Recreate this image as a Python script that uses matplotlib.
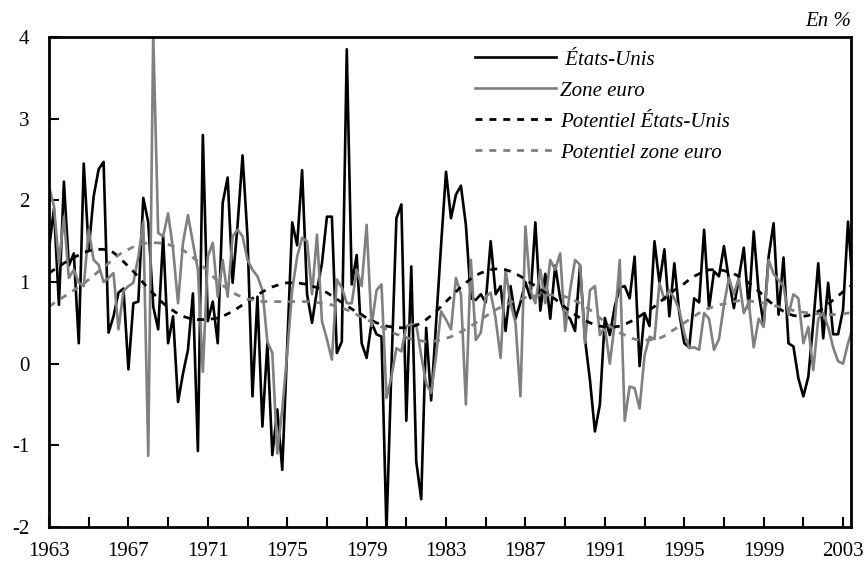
import numpy as np
import matplotlib
matplotlib.use('Agg')
import matplotlib.pyplot as plt

plt.rcParams['font.family'] = ['Liberation Serif', 'DejaVu Serif']
plt.rcParams['axes.unicode_minus'] = False

# croissance trimestrielle, 1963T1 - 2003T3
etats_unis = [
    1.4, 1.9, 0.72, 2.23,      # 1963
    1.2, 1.35, 0.25, 2.45,     # 1964
    1.4, 2.05, 2.38, 2.47,     # 1965
    0.38, 0.58, 0.87, 0.92,    # 1966
    -0.07, 0.74, 0.76, 2.03,   # 1967
    1.73, 0.7, 0.42, 1.56,     # 1968
    0.25, 0.58, -0.47, -0.12,  # 1969
    0.17, 0.86, -1.07, 2.8,    # 1970
    0.52, 0.76, 0.25, 1.97,    # 1971
    2.28, 0.99, 1.7, 2.55,     # 1972
    1.55, -0.4, 0.82, -0.77,   # 1973
    0.25, -1.12, -0.56, -1.3,  # 1974
    0.2, 1.73, 1.45, 2.37,     # 1975
    0.85, 0.5, 0.9, 1.23,      # 1976
    1.8, 1.8, 0.13, 0.27,      # 1977
    3.85, 0.97, 1.33, 0.25,    # 1978
    0.07, 0.5, 0.36, 0.33,     # 1979
    -2.05, -0.05, 1.78, 1.95,  # 1980
    -0.7, 1.19, -1.2, -1.66,   # 1981
    0.44, -0.45, 0.5, 1.45,    # 1982
    2.35, 1.78, 2.07, 2.18,    # 1983
    1.7, 0.8, 0.78, 0.85,      # 1984
    0.75, 1.5, 0.85, 0.95,     # 1985
    0.4, 0.95, 0.55, 0.75,     # 1986
    1.0, 0.8, 1.73, 0.65,      # 1987
    1.1, 0.55, 1.2, 0.8,       # 1988
    0.6, 0.55, 0.4, 1.2,       # 1989
    0.3, -0.2, -0.83, -0.5,    # 1990
    0.56, 0.35, 0.7, 0.93,     # 1991
    0.95, 0.8, 1.31, -0.03,    # 1992
    0.62, 0.46, 1.5, 0.99,     # 1993
    1.4, 0.58, 1.23, 0.62,     # 1994
    0.25, 0.2, 0.8, 0.75,      # 1995
    1.64, 0.68, 1.13, 1.07,    # 1996
    1.44, 1.03, 0.68, 1.05,    # 1997
    1.42, 0.68, 1.62, 0.87,    # 1998
    0.48, 1.31, 1.72, 0.6,     # 1999
    1.3, 0.25, 0.21, -0.18,    # 2000
    -0.4, -0.16, 0.5, 1.23,    # 2001
    0.31, 0.99, 0.36, 0.36,    # 2002
    0.66, 1.74, 0.9,           # 2003
]

zone_euro = [
    2.17, 1.93, 1.23, 1.8,
    1.05, 1.15, 0.99, 0.95,
    1.64, 1.27, 1.21, 1.0,
    1.05, 1.11, 0.42, 0.89,
    0.95, 0.99, 1.31, 1.74,
    -1.13, 4.05, 1.6, 1.56,
    1.84, 1.4, 0.74, 1.48,
    1.82, 1.48, 1.15, -0.1,
    1.31, 1.48, 0.82, 1.27,
    0.82, 1.56, 1.64, 1.56,
    1.27, 1.15, 1.07, 0.9,
    0.27, 0.13, -1.1, -0.56,
    0.13, 0.9, 1.31, 1.54,
    1.5, 0.85, 1.58, 0.52,
    0.3, 0.05, 1.03, 0.93,
    0.74, 0.74, 1.15, 0.95,
    1.7, 0.46, 0.9, 0.97,
    -0.42, -0.16, 0.19, 0.15,
    0.46, 0.48, 0.48, 0.1,
    -0.24, -0.36, 0.1, 0.64,
    0.54, 0.42, 1.05, 0.85,
    -0.5, 1.27, 0.29, 0.38,
    0.82, 0.87, 0.55, 0.07,
    1.15, 0.74, 0.5, -0.4,
    1.68, 0.9, 0.74, 1.15,
    0.74, 1.27, 1.15, 1.35,
    0.4, 0.9, 1.27, 1.21,
    0.25, 0.9, 0.95, 0.35,
    0.45, 0.0, 0.5, 1.27,
    -0.7, -0.28, -0.3, -0.55,
    0.1, 0.33, 0.3, 0.99,
    0.78, 0.9, 0.8, 0.66,
    0.37, 0.19, 0.2, 0.17,
    0.62, 0.55, 0.17, 0.3,
    0.72, 1.05, 0.85, 1.05,
    0.62, 0.75, 0.2, 0.55,
    0.45, 1.27, 1.1, 1.02,
    0.95, 0.6, 0.85, 0.8,
    0.25, 0.45, -0.08, 0.55,
    0.62, 0.45, 0.2, 0.03,
    0.0, 0.25, 0.45,
]

pot_etats_unis = [
    1.11, 1.15, 1.19, 1.23,
    1.27, 1.30, 1.33, 1.36,
    1.38, 1.40, 1.40, 1.40,
    1.39, 1.36, 1.31, 1.25,
    1.19, 1.13, 1.06, 0.99,
    0.92, 0.86, 0.80, 0.74,
    0.69, 0.65, 0.61, 0.58,
    0.56, 0.55, 0.54, 0.54,
    0.54, 0.55, 0.56, 0.58,
    0.61, 0.64, 0.68, 0.72,
    0.76, 0.80, 0.84, 0.88,
    0.91, 0.94, 0.96, 0.98,
    0.99, 0.99, 0.99, 0.98,
    0.97, 0.95, 0.93, 0.90,
    0.87, 0.83, 0.79, 0.75,
    0.71, 0.67, 0.63, 0.60,
    0.56, 0.53, 0.50, 0.48,
    0.46, 0.45, 0.44, 0.44,
    0.44, 0.45, 0.47, 0.50,
    0.54, 0.59, 0.64, 0.70,
    0.76, 0.82, 0.88, 0.94,
    0.99, 1.04, 1.08, 1.11,
    1.13, 1.15, 1.16, 1.16,
    1.15, 1.13, 1.10, 1.07,
    1.03, 0.99, 0.95, 0.91,
    0.87, 0.83, 0.79, 0.74,
    0.69, 0.64, 0.60, 0.56,
    0.53, 0.50, 0.48, 0.46,
    0.45, 0.45, 0.45, 0.46,
    0.48, 0.51, 0.54, 0.58,
    0.62, 0.66, 0.70, 0.75,
    0.80, 0.85, 0.90, 0.94,
    0.98, 1.03, 1.07, 1.10,
    1.13, 1.15, 1.15, 1.15,
    1.14, 1.12, 1.10, 1.07,
    1.03, 0.99, 0.94, 0.89,
    0.83, 0.77, 0.72, 0.68,
    0.64, 0.61, 0.59, 0.58,
    0.58, 0.59, 0.61, 0.64,
    0.68, 0.73, 0.78, 0.83,
    0.88, 0.93, 0.97,
]

pot_zone_euro = [
    0.70, 0.74, 0.78, 0.82,
    0.86, 0.90, 0.94, 0.98,
    1.03, 1.08, 1.13, 1.18,
    1.23, 1.28, 1.33, 1.37,
    1.40, 1.43, 1.46, 1.47,
    1.48, 1.48, 1.48, 1.47,
    1.46, 1.44, 1.42, 1.39,
    1.35, 1.30, 1.25, 1.19,
    1.13, 1.07, 1.01, 0.96,
    0.91, 0.87, 0.84, 0.81,
    0.79, 0.78, 0.77, 0.76,
    0.76, 0.76, 0.76, 0.76,
    0.76, 0.76, 0.76, 0.76,
    0.76, 0.75, 0.75, 0.74,
    0.73, 0.72, 0.70, 0.68,
    0.66, 0.63, 0.60, 0.57,
    0.54, 0.51, 0.48, 0.45,
    0.42, 0.39, 0.36, 0.34,
    0.32, 0.30, 0.29, 0.28,
    0.27, 0.27, 0.28, 0.29,
    0.31, 0.33, 0.36, 0.39,
    0.42, 0.46, 0.50, 0.54,
    0.58, 0.62, 0.66, 0.69,
    0.72, 0.75, 0.77, 0.79,
    0.81, 0.82, 0.83, 0.84,
    0.84, 0.84, 0.84, 0.83,
    0.82, 0.80, 0.77, 0.74,
    0.70, 0.66, 0.61, 0.56,
    0.51, 0.46, 0.42, 0.38,
    0.35, 0.32, 0.30, 0.29,
    0.29, 0.29, 0.30, 0.31,
    0.34, 0.38, 0.42, 0.46,
    0.50, 0.54, 0.58, 0.62,
    0.65, 0.68, 0.70, 0.72,
    0.73, 0.75, 0.76, 0.77,
    0.77, 0.77, 0.76, 0.75,
    0.74, 0.73, 0.71, 0.70,
    0.68, 0.67, 0.65, 0.64,
    0.63, 0.62, 0.61, 0.61,
    0.60, 0.60, 0.60, 0.61,
    0.61, 0.62, 0.62,
]

annees = [str(a) for a in range(1963, 2004, 4)]

t = np.arange(len(etats_unis))
gris = '#808080'

fig = plt.figure(figsize=(8.68, 5.66), dpi=100)
ax = fig.add_axes([49/868, 1-527/566, 802/868, 490/566])

ax.plot(t, etats_unis, color='black', lw=1.9, label=' États-Unis')
ax.plot(t, zone_euro, color=gris, lw=1.9, label='Zone euro')
ax.plot(t, pot_etats_unis, color='black', lw=2.0, ls=(0, (2.5, 2.5)), label='Potentiel États-Unis')
ax.plot(t, pot_zone_euro, color=gris, lw=2.0, ls=(0, (2.5, 2.5)), label='Potentiel zone euro')

ax.set_xlim(0, 161.6)
ax.set_ylim(-2, 4)
ax.set_yticks(range(-2, 5))
ax.set_yticklabels([str(v) for v in range(-2, 5)])
ax.set_xticks(np.arange(0, 161, 8))
ax.set_xticklabels([annees[i // 2] if i % 2 == 0 else '' for i in range(21)])
ax.tick_params(direction='in', length=7, width=1.5, labelsize=15)
ax.tick_params(axis='y', pad=14)
ax.tick_params(axis='x', pad=11)
for s in ax.spines.values():
    s.set_linewidth(2)

leg = ax.legend(loc='upper left', bbox_to_anchor=(475/868, 1-50/566),
                bbox_transform=fig.transFigure, frameon=False,
                prop={'style': 'italic', 'size': 15}, handlelength=3.9,
                handletextpad=0.2, labelspacing=0.55, borderpad=0, borderaxespad=0)

fig.text(851/868, 1-22/566, 'En %', ha='right', va='center', fontsize=15, style='italic')

fig.savefig('out.png', dpi=100)
